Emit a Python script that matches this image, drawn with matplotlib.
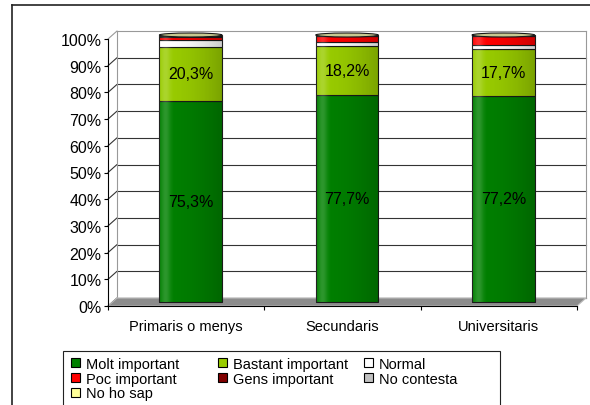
import numpy as np
import matplotlib.pyplot as plt
from matplotlib import transforms
from matplotlib.patches import Ellipse, Polygon, Rectangle, ConnectionPatch, Patch
from matplotlib.lines import Line2D

plt.rcParams['font.family'] = ['Liberation Sans', 'DejaVu Sans']
plt.rcParams['font.size'] = 10.5

# dades
categories = ['Primaris o menys', 'Secundaris', 'Universitaris']
molt = [75.3, 77.7, 77.2]
bastant = [20.3, 18.2, 17.7]
normal = [2.6, 1.3, 1.3]
poc = [1.0, 2.3, 3.5]
gens = [0.3, 0.2, 0.1]
no_contesta = [0.3, 0.2, 0.1]
no_ho_sap = [0.2, 0.1, 0.1]
series = [('Molt important', molt, '#008000'),
          ('Bastant important', bastant, '#99cc00'),
          ('Normal', normal, '#ffffff'),
          ('Poc important', poc, '#ff0000'),
          ('Gens important', gens, '#800000'),
          ('No contesta', no_contesta, '#c0c0c0'),
          ('No ho sap', no_ho_sap, '#ffff99')]
yticks = list(range(0, 101, 10))

W, H = 590, 406
fig = plt.figure(figsize=(W/100, H/100), dpi=100)
ax = fig.add_axes([108/W, 1-307/H, (577-108)/W, (307-40)/H])
ax.patch.set_alpha(0)
back = transforms.offset_copy(ax.transData, fig=fig, x=9, y=8, units='dots')
mid = transforms.offset_copy(ax.transData, fig=fig, x=4.5, y=4, units='dots')
x = np.arange(len(categories))
ax.set_xlim(-0.5, 2.5)
ax.set_ylim(0, 100)

# paret del fons i parets laterals
for v in yticks:
    c = '#999999' if v == 100 else '#333333'
    ax.plot([-0.5, 2.5], [v, v], transform=back, color=c, lw=0.8, clip_on=False, zorder=0.5)
    ax.add_artist(ConnectionPatch(xyA=(-0.5, v), coordsA=ax.transData, xyB=(-0.5, v), coordsB=back,
                                  color=c, lw=0.8, zorder=0.5))
ax.plot([2.5, 2.5], [0, 100], transform=back, color='#999999', lw=0.8, clip_on=False, zorder=0.5)
ax.plot([-0.5, -0.5], [0, 100], transform=back, color='#999999', lw=0.8, clip_on=False, zorder=0.5)

# terra
fig.canvas.draw()
pts = [ax.transData.transform((-0.5, 0)), ax.transData.transform((2.5, 0)),
       back.transform((2.5, 0)), back.transform((-0.5, 0))]
ax.add_patch(Polygon(pts, closed=True, transform=transforms.IdentityTransform(),
                     fc='#8c8c8c', ec='#bbbbbb', lw=0.8, clip_on=False, zorder=1))

# barres
bottom = np.zeros(len(categories))
for name, vals, color in series:
    ax.bar(x, vals, 0.4, bottom=bottom, color=color, edgecolor='#1a1a1a', lw=0.8,
           transform=mid, clip_on=False, zorder=3, label=name)
    bottom += np.array(vals)

t = np.linspace(0, 1, 64)
light = 0.18 * np.exp(-((t - 0.1) / 0.08) ** 2)
dark = 0.2 * t ** 2
for xi, top in zip(x, bottom):
    for rgb, a in [((1, 1, 1), light), ((0, 0, 0), dark)]:
        img = np.zeros((1, 64, 4))
        img[..., :3] = rgb
        img[..., 3] = a
        ax.imshow(img, extent=(xi - 0.2, xi + 0.2, 0, top), transform=mid, aspect='auto',
                  interpolation='bilinear', zorder=4, clip_on=False)
    ax.add_patch(Ellipse((xi, top), 0.4, 1.5, transform=mid, fc='#c8c890', ec='#1a1a1a',
                         lw=0.8, zorder=5, clip_on=False))

for xi, m, b in zip(x, molt, bastant):
    ax.text(xi, m / 2, f'{m:.1f}%'.replace('.', ','), transform=mid, ha='center', va='center',
            fontsize=11.5, zorder=6)
    ax.text(xi, m + b / 2, f'{b:.1f}%'.replace('.', ','), transform=mid, ha='center', va='center',
            fontsize=11.5, zorder=6)

ax.set_xlim(-0.5, 2.5)
ax.set_ylim(0, 100)

# eixos
for s in ['top', 'right']:
    ax.spines[s].set_visible(False)
ax.spines['left'].set_linewidth(0.8)
ax.spines['bottom'].set_linewidth(0.8)
ax.set_yticks(yticks, [f'{v}%' for v in yticks])
ax.tick_params(axis='y', length=3, width=0.8, pad=1.5, labelsize=11.5)
ax.set_xticks(x, categories)
ax.set_xticks([-0.5, 0.5, 1.5, 2.5], minor=True)
ax.tick_params(axis='x', which='major', length=0, pad=9.5)
ax.tick_params(axis='x', which='minor', length=3, width=0.8)

# marc exterior
fig.add_artist(Line2D([12/W, 12/W], [0, 1-6/H], color='#222222', lw=1.2))
fig.add_artist(Line2D([12/W, 1], [1-6/H, 1-6/H], color='#222222', lw=1.2))

# llegenda
fig.add_artist(Rectangle((63/W, -0.05), (500-63)/W, (406-352)/H + 0.05, transform=fig.transFigure,
                         fill=False, ec='#222222', lw=0.8))
cols = [[0, 3, 6], [1, 4], [2, 5]]
col_x = [71, 218, 364]
for idx, cx in zip(cols, col_x):
    handles = [Patch(fc=series[i][2], ec='black', lw=0.8) for i in idx]
    labels = [series[i][0] for i in idx]
    fig.legend(handles, labels, loc='upper left', bbox_to_anchor=(cx/W, 1-358/H), frameon=False,
               handlelength=0.6, handleheight=0.6, handletextpad=0.4, labelspacing=0.05,
               borderpad=0, borderaxespad=0)

fig.savefig('out.png', dpi=100)
